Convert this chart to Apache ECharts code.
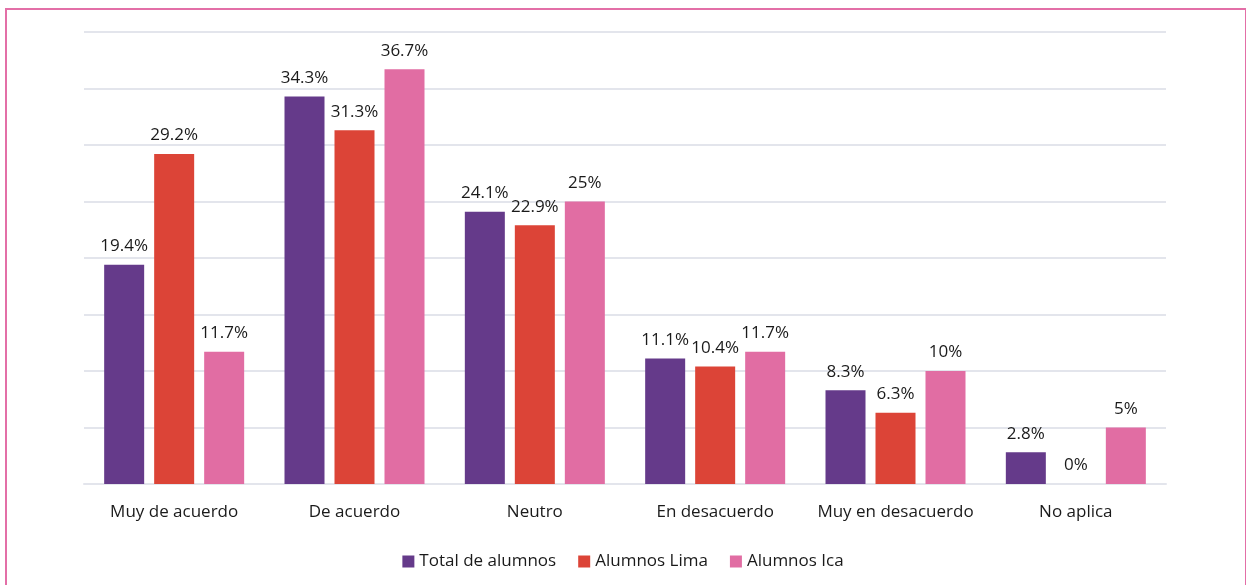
<!DOCTYPE html>
<html>
<head>
<meta charset="utf-8">
<script src="https://cdn.jsdelivr.net/npm/echarts@6/dist/echarts.min.js"></script>
<style>
  html, body { margin: 0; padding: 0; background: #fff; }
  #frame { position: absolute; left: 5px; top: 8px; width: 1238px; height: 600px; border: 2px solid #e36fa7; }
  #main { position: absolute; left: 0; top: 0; width: 1246px; height: 585px; }
</style>
</head>
<body>
<div id="frame"></div>
<div id="main"></div>
<script>
var categories = ['Muy de acuerdo', 'De acuerdo', 'Neutro', 'En desacuerdo', 'Muy en desacuerdo', 'No aplica'];
var seriesNames = ['Total de alumnos', 'Alumnos Lima', 'Alumnos Ica'];
var totalAlumnos = [19.4, 34.3, 24.1, 11.1, 8.3, 2.8];
var alumnosLima = [29.2, 31.3, 22.9, 10.4, 6.3, 0];
var alumnosIca = [11.7, 36.7, 25, 11.7, 10, 5];
var colors = ['#653a8a', '#dc4437', '#e16da3'];

var chartDom = document.getElementById('main');
var myChart = echarts.init(chartDom);
var option;

function barSeries(name, data, color) {
  return {
    name: name,
    type: 'bar',
    data: data,
    barWidth: 40,
    barGap: '25%',
    itemStyle: { color: color },
    label: {
      show: true,
      position: 'top',
      distance: 10,
      formatter: '{c}%',
      color: '#1a1a1a',
      fontSize: 17,
      fontFamily: 'Open Sans'
    }
  };
}

option = {
  animation: false,
  grid: { left: 84, right: 80, top: 32, bottom: 101 },
  legend: {
    bottom: 10,
    left: 'center',
    icon: 'rect',
    itemWidth: 12,
    itemHeight: 12,
    itemGap: 22,
    textStyle: { fontSize: 17, color: '#1a1a1a', fontFamily: 'Open Sans' },
    data: seriesNames
  },
  xAxis: {
    type: 'category',
    data: categories,
    axisLine: { lineStyle: { color: '#e3e5ec', width: 2 } },
    axisTick: { show: false },
    axisLabel: { interval: 0, fontSize: 17, color: '#1a1a1a', margin: 20, fontFamily: 'Open Sans' }
  },
  yAxis: {
    type: 'value',
    min: 0,
    max: 40,
    interval: 5,
    axisLabel: { show: false },
    axisLine: { show: false },
    axisTick: { show: false },
    splitLine: { lineStyle: { color: '#e3e5ec', width: 2 } }
  },
  series: [
    barSeries(seriesNames[0], totalAlumnos, colors[0]),
    barSeries(seriesNames[1], alumnosLima, colors[1]),
    barSeries(seriesNames[2], alumnosIca, colors[2])
  ]
};

option && myChart.setOption(option);
</script>
</body>
</html>
